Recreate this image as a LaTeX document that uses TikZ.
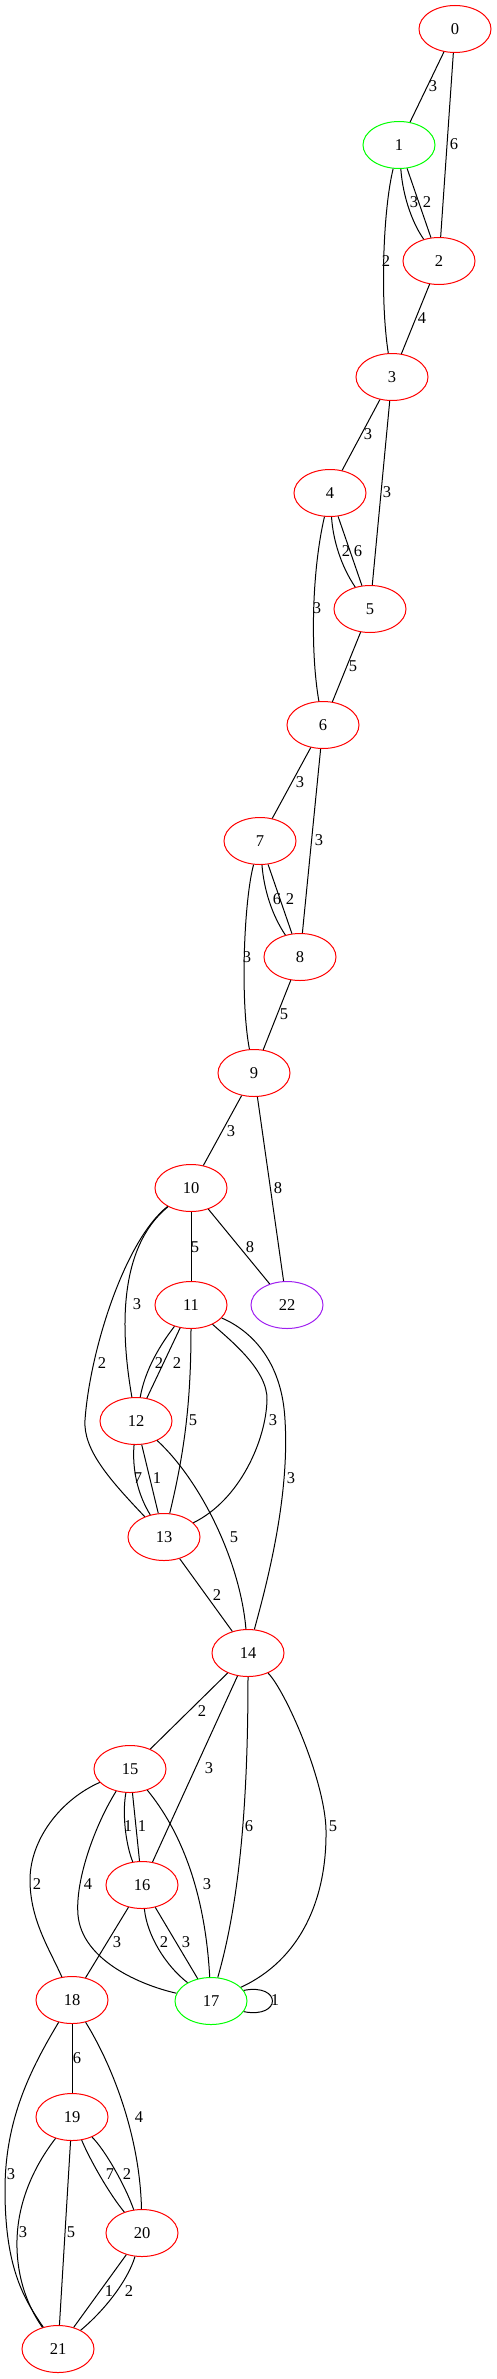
\documentclass[tikz,border=0pt]{standalone}
\usepackage{fontspec}
\setmainfont{Liberation Serif}
\usetikzlibrary{shapes.geometric}
\definecolor{gvred}{RGB}{255,0,0}
\definecolor{gvgreen}{RGB}{0,255,0}
\definecolor{gvpurple}{RGB}{160,32,240}
\begin{document}
\begin{tikzpicture}[x=1pt,y=-1pt,
  vtx/.style={ellipse,draw=gvred,line width=1pt,minimum width=72pt,minimum height=47pt,inner sep=0pt,font=\fontsize{16.5}{18}\selectfont},
  vgreen/.style={vtx,draw=gvgreen},
  vpurple/.style={vtx,draw=gvpurple},
  lab/.style={inner sep=0pt,font=\fontsize{16.5}{18}\selectfont},
  every path/.style={line width=1pt}]
\useasboundingbox (0,0) rectangle (497,2379);
\node[vtx] (n0) at (455,29) {0};
\node[vgreen] (n1) at (399,145) {1};
\node[vtx] (n2) at (439,261) {2};
\node[vtx] (n3) at (392,377) {3};
\node[vtx] (n4) at (330,493) {4};
\node[vtx] (n5) at (370,609) {5};
\node[vtx] (n6) at (323,725) {6};
\node[vtx] (n7) at (260,841) {7};
\node[vtx] (n8) at (300,957) {8};
\node[vtx] (n9) at (254,1073) {9};
\node[vtx] (n10) at (191,1188) {10};
\node[vtx] (n11) at (191,1305) {11};
\node[vpurple] (n22) at (287,1305) {22};
\node[vtx] (n12) at (136,1421) {12};
\node[vtx] (n13) at (164,1537) {13};
\node[vtx] (n14) at (248,1653) {14};
\node[vtx] (n15) at (130,1769) {15};
\node[vtx] (n16) at (142,1885) {16};
\node[vgreen] (n17) at (211,2001) {17};
\node[vtx] (n18) at (72,2000) {18};
\node[vtx] (n19) at (72,2117) {19};
\node[vtx] (n20) at (142,2233) {20};
\node[vtx] (n21) at (58,2349) {21};

\draw (n0) -- (n1) node[lab,at={(433,86)}] {3};
\draw (n0) -- (n2) node[lab,at={(454,144)}] {6};
\draw (n1) .. controls (403,198) and (413,224) .. (n2) node[lab,at={(414,202)}] {3};
\draw (n1) -- (n2) node[lab,at={(427,202)}] {2};
\draw (n1) .. controls (383,210) and (380,300) .. (n3) node[lab,at={(386,261)}] {2};
\draw (n2) -- (n3) node[lab,at={(422,318)}] {4};
\draw (n3) -- (n4) node[lab,at={(368,434)}] {3};
\draw (n3) -- (n5) node[lab,at={(387,492)}] {3};
\draw (n4) .. controls (333,540) and (341,566) .. (n5) node[lab,at={(346,551)}] {2};
\draw (n4) -- (n5) node[lab,at={(358,551)}] {6};
\draw (n4) .. controls (312,570) and (310,650) .. (n6) node[lab,at={(317,608)}] {3};
\draw (n5) -- (n6) node[lab,at={(353,666)}] {5};
\draw (n6) -- (n7) node[lab,at={(300,782)}] {3};
\draw (n6) -- (n8) node[lab,at={(319,840)}] {3};
\draw (n7) .. controls (264,890) and (272,915) .. (n8) node[lab,at={(277,899)}] {6};
\draw (n7) -- (n8) node[lab,at={(290,899)}] {2};
\draw (n7) .. controls (244,900) and (240,1000) .. (n9) node[lab,at={(247,957)}] {3};
\draw (n8) -- (n9) node[lab,at={(284,1014)}] {5};
\draw (n9) -- (n10) node[lab,at={(231,1131)}] {3};
\draw (n9) -- (n22) node[lab,at={(278,1188)}] {8};
\draw (n10) -- (n11) node[lab,at={(195,1247)}] {5};
\draw (n10) -- (n22) node[lab,at={(250,1247)}] {8};
\draw (n10) .. controls (115,1250) and (122,1340) .. (n12) node[lab,at={(137,1304)}] {3};
\draw (n10) .. controls (125,1240) and (90,1350) .. (85,1420) .. controls (83,1450) and (110,1480) .. (n13) node[lab,at={(102,1363)}] {2};
\draw (n11) .. controls (160,1345) and (145,1370) .. (n12) node[lab,at={(159,1363)}] {2};
\draw (n11) -- (n12) node[lab,at={(177,1363)}] {2};
\draw (n11) .. controls (191,1400) and (185,1450) .. (n13) node[lab,at={(193,1420)}] {5};
\draw (n11) .. controls (230,1340) and (268,1370) .. (267,1400) .. controls (266,1440) and (240,1500) .. (n13) node[lab,at={(273,1420)}] {3};
\draw (n11) .. controls (250,1330) and (282,1360) .. (285,1420) .. controls (290,1500) and (265,1590) .. (n14) node[lab,at={(291,1478)}] {3};
\draw (n12) .. controls (132,1470) and (138,1495) .. (n13) node[lab,at={(138,1478)}] {7};
\draw (n12) -- (n13) node[lab,at={(157,1478)}] {1};
\draw (n12) .. controls (200,1480) and (240,1560) .. (n14) node[lab,at={(234,1537)}] {5};
\draw (n13) -- (n14) node[lab,at={(217,1595)}] {2};
\draw (n14) -- (n15) node[lab,at={(202,1711)}] {2};
\draw (n14) -- (n16) node[lab,at={(209,1768)}] {3};
\draw (n14) .. controls (248,1800) and (240,1900) .. (n17) node[lab,at={(249,1826)}] {6};
\draw (n14) .. controls (285,1690) and (325,1780) .. (326,1830) .. controls (327,1900) and (300,1960) .. (n17) node[lab,at={(333,1826)}] {5};
\draw (n15) .. controls (122,1815) and (126,1845) .. (n16) node[lab,at={(128,1826)}] {1};
\draw (n15) -- (n16) node[lab,at={(142,1826)}] {1};
\draw (n15) .. controls (95,1825) and (75,1880) .. (78,1915) .. controls (82,1960) and (140,1985) .. (n17) node[lab,at={(88,1884)}] {4};
\draw (n15) .. controls (180,1830) and (205,1890) .. (n17) node[lab,at={(207,1884)}] {3};
\draw (n15) .. controls (60,1800) and (30,1840) .. (30,1880) .. controls (30,1920) and (50,1950) .. (n18) node[lab,at={(37,1884)}] {2};
\draw (n16) .. controls (147,1935) and (165,1965) .. (n17) node[lab,at={(164,1942)}] {2};
\draw (n16) -- (n17) node[lab,at={(186,1942)}] {3};
\draw (n16) -- (n18) node[lab,at={(117,1942)}] {3};
\draw (n17.18) .. controls (282,1983) and (282,2019) .. (n17.-18) node[lab,at={(275,2000)}] {1};
\draw (n18) -- (n19) node[lab,at={(77,2058)}] {6};
\draw (n18) .. controls (115,2070) and (140,2140) .. (n20) node[lab,at={(139,2117)}] {4};
\draw (n18) .. controls (30,2070) and (5,2120) .. (5,2190) .. controls (5,2270) and (25,2300) .. (n21) node[lab,at={(11,2174)}] {3};
\draw (n19) .. controls (90,2160) and (110,2195) .. (n20) node[lab,at={(110,2174)}] {7};
\draw (n19) .. controls (105,2150) and (125,2185) .. (n20) node[lab,at={(127,2174)}] {2};
\draw (n19) .. controls (35,2165) and (18,2200) .. (17,2240) .. controls (16,2280) and (30,2310) .. (n21) node[lab,at={(23,2232)}] {3};
\draw (n19) -- (n21) node[lab,at={(71,2232)}] {5};
\draw (n20) -- (n21) node[lab,at={(109,2291)}] {1};
\draw (n20) .. controls (128,2280) and (105,2310) .. (n21) node[lab,at={(129,2291)}] {2};
\end{tikzpicture}
\end{document}
